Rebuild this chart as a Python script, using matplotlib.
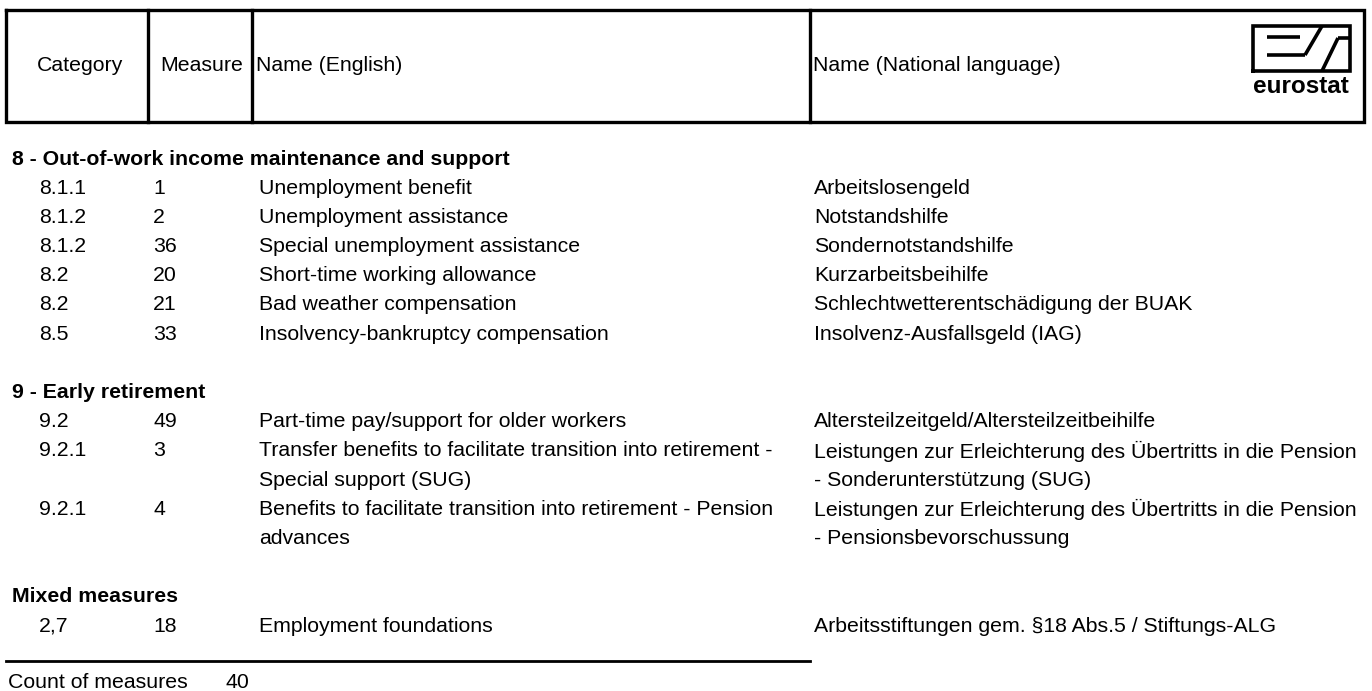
import matplotlib.pyplot as plt

plt.rcParams['font.family'] = ['Liberation Sans', 'DejaVu Sans']

# table content
sections = ['8 - Out-of-work income maintenance and support',
            '9 - Early retirement',
            'Mixed measures']
categories = [['8.1.1', '8.1.2', '8.1.2', '8.2', '8.2', '8.5'],
              ['9.2', '9.2.1', '9.2.1'],
              ['2,7']]
measures = [['1', '2', '36', '20', '21', '33'],
            ['49', '3', '4'],
            ['18']]
names_en = [['Unemployment benefit',
             'Unemployment assistance',
             'Special unemployment assistance',
             'Short-time working allowance',
             'Bad weather compensation',
             'Insolvency-bankruptcy compensation'],
            ['Part-time pay/support for older workers',
             'Transfer benefits to facilitate transition into retirement -\nSpecial support (SUG)',
             'Benefits to facilitate transition into retirement - Pension\nadvances'],
            ['Employment foundations']]
names_nat = [['Arbeitslosengeld',
              'Notstandshilfe',
              'Sondernotstandshilfe',
              'Kurzarbeitsbeihilfe',
              'Schlechtwetterentschädigung der BUAK',
              'Insolvenz-Ausfallsgeld (IAG)'],
             ['Altersteilzeitgeld/Altersteilzeitbeihilfe',
              'Leistungen zur Erleichterung des Übertritts in die Pension\n- Sonderunterstützung (SUG)',
              'Leistungen zur Erleichterung des Übertritts in die Pension\n- Pensionsbevorschussung'],
             ['Arbeitsstiftungen gem. §18 Abs.5 / Stiftungs-ALG']]
count_label = 'Count of measures'
count_value = 40

W, H = 1372, 691
fig = plt.figure(figsize=(W / 100, H / 100), dpi=100)
ax = fig.add_axes([0, 0, 1, 1])
ax.set_xlim(0, W)
ax.set_ylim(H, 0)
ax.axis('off')

fs = 15.3
lw = 2.4

# header box
ax.plot([6, 1364, 1364, 6, 6], [10, 10, 122, 122, 10], color='black', lw=lw, solid_joinstyle='miter')
for xv in [148, 252, 810]:
    ax.plot([xv, xv], [10, 122], color='black', lw=lw)
ax.text(80, 65, 'Category', ha='center', va='center', fontsize=fs)
ax.text(160, 65, 'Measure', ha='left', va='center', fontsize=fs)
ax.text(256, 65, 'Name (English)', ha='left', va='center', fontsize=fs)
ax.text(813, 65, 'Name (National language)', ha='left', va='center', fontsize=fs)

# eurostat logo
lc = dict(color='black', lw=2.6, solid_capstyle='butt')
ax.plot([1253, 1253, 1350, 1350, 1253], [71, 26, 26, 71, 71], color='black', lw=2.6, solid_joinstyle='miter')
ax.plot([1267, 1300], [37, 37], **lc)
ax.plot([1267, 1305], [55, 55], **lc)
ax.plot([1305, 1322], [55, 26], **lc)
ax.plot([1322, 1338], [71, 38], **lc)
ax.plot([1338, 1350], [38, 38], **lc)
ax.text(1301, 93, 'eurostat', ha='center', va='baseline', fontsize=17.5, fontweight='bold')

# body rows
row_h = 29.2
y = 159
for s, title in enumerate(sections):
    ax.text(12, y, title, ha='left', va='center', fontsize=fs, fontweight='bold')
    y += row_h
    for cat, meas, en, nat in zip(categories[s], measures[s], names_en[s], names_nat[s]):
        ax.text(39, y, cat, ha='left', va='center', fontsize=fs)
        ax.text(153, y, meas, ha='left', va='center', fontsize=fs)
        en_lines = en.split('\n')
        nat_lines = nat.split('\n')
        for k, line in enumerate(en_lines):
            ax.text(259, y + k * row_h, line, ha='left', va='center', fontsize=fs)
        for k, line in enumerate(nat_lines):
            ax.text(814, y + k * row_h, line, ha='left', va='center', fontsize=fs)
        y += row_h * max(len(en_lines), len(nat_lines))
    y += row_h

# footer
ax.plot([6, 810], [661, 661], color='black', lw=2.0)
ax.text(8, 682, count_label, ha='left', va='center', fontsize=fs)
ax.text(225, 682, str(count_value), ha='left', va='center', fontsize=fs)

fig.savefig('out.png', dpi=100)
